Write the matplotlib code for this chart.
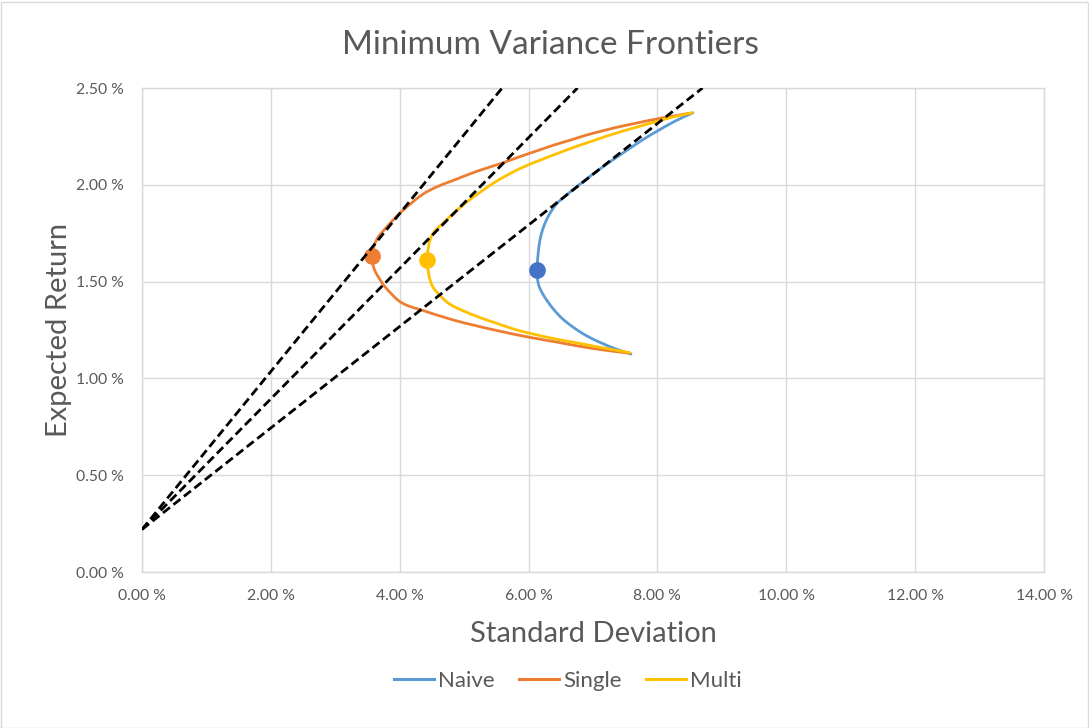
import matplotlib
matplotlib.use("Agg")
import matplotlib.pyplot as plt
from matplotlib.patches import Rectangle, PathPatch
from matplotlib.path import Path
from matplotlib.lines import Line2D
from matplotlib.ticker import FuncFormatter, MultipleLocator

# Frontier points: standard deviation (%) vs expected return (%)
naive_sd = [8.55, 8.28, 8.00, 7.75, 7.41, 7.15, 6.90, 6.74, 6.58, 6.43, 6.31, 6.23,
            6.18, 6.15, 6.13, 6.14, 6.17, 6.25, 6.38, 6.52, 6.69, 6.90, 7.15, 7.37, 7.59]
naive_ret = [2.372, 2.330, 2.278, 2.228, 2.152, 2.092, 2.030, 1.988, 1.945, 1.900,
             1.840, 1.780, 1.720, 1.650, 1.560, 1.510, 1.470, 1.420, 1.360, 1.310,
             1.265, 1.220, 1.180, 1.150, 1.126]

single_sd = [8.51, 8.24, 7.99, 7.72, 7.41, 7.20, 6.90, 6.69, 6.40, 6.17, 5.86, 5.58,
             5.20, 4.85, 4.58, 4.34, 4.03, 3.82, 3.69, 3.64, 3.60, 3.57, 3.59, 3.64,
             3.77, 3.97, 4.13, 4.34, 4.85, 5.47, 6.02, 6.40, 6.79, 7.18, 7.57]
single_ret = [2.370, 2.355, 2.340, 2.322, 2.300, 2.283, 2.257, 2.235, 2.206, 2.180,
              2.145, 2.111, 2.070, 2.025, 1.990, 1.947, 1.862, 1.790, 1.740, 1.715,
              1.680, 1.630, 1.580, 1.540, 1.474, 1.405, 1.375, 1.353, 1.300, 1.250,
              1.212, 1.190, 1.166, 1.146, 1.130]

multi_sd = [8.54, 8.24, 8.00, 7.72, 7.41, 7.20, 6.90, 6.69, 6.40, 6.17, 5.86, 5.52,
            5.25, 5.01, 4.80, 4.65, 4.53, 4.47, 4.44, 4.42, 4.44, 4.47, 4.54, 4.75,
            4.98, 5.24, 5.50, 5.75, 6.02, 6.40, 6.79, 7.18, 7.57]
multi_ret = [2.372, 2.350, 2.328, 2.302, 2.272, 2.250, 2.216, 2.192, 2.156, 2.126,
             2.083, 2.022, 1.962, 1.903, 1.842, 1.795, 1.755, 1.715, 1.665, 1.610,
             1.560, 1.510, 1.460, 1.390, 1.350, 1.315, 1.285, 1.257, 1.233, 1.205,
             1.181, 1.156, 1.133]

# Minimum-variance portfolios
mv_sd = [6.13, 3.57, 4.42]
mv_ret = [1.56, 1.63, 1.61]

# Capital allocation lines: risk-free intercept and std dev where each reaches 2.50 %
risk_free = 0.22
cal_top_ret = 2.50
cal_top_sd = [5.59, 6.76, 8.70]

series_names = ["Naive", "Single", "Multi"]
line_colors = ["#5B9BD5", "#ED7D31", "#FFC000"]
dot_colors = ["#4472C4", "#ED7D31", "#FFC000"]


def smoothed_path(xs, ys):
    """Cubic Bezier path through the points (Catmull-Rom style smoothing)."""
    pts = list(zip(xs, ys))
    verts = [pts[0]]
    codes = [Path.MOVETO]
    n = len(pts)
    for i in range(n - 1):
        p0 = pts[i - 1] if i > 0 else pts[i]
        p1 = pts[i]
        p2 = pts[i + 1]
        p3 = pts[i + 2] if i + 2 < n else pts[i + 1]
        c1 = (p1[0] + (p2[0] - p0[0]) / 6, p1[1] + (p2[1] - p0[1]) / 6)
        c2 = (p2[0] - (p3[0] - p1[0]) / 6, p2[1] - (p3[1] - p1[1]) / 6)
        verts += [c1, c2, p2]
        codes += [Path.CURVE4] * 3
    return Path(verts, codes)


W, H = 1089, 728
fig = plt.figure(figsize=(W / 100, H / 100), dpi=100)
fig.patch.set_facecolor("white")
ax = fig.add_axes([142 / W, 1 - 572 / H, (1044 - 142) / W, (572 - 88) / H])

text_color = "#595959"
grid_color = "#D9D9D9"
font = "Lato"

curves = [(naive_sd, naive_ret), (single_sd, single_ret), (multi_sd, multi_ret)]
for (sd, ret), c in zip(curves, line_colors):
    ax.add_patch(PathPatch(smoothed_path(sd, ret), fill=False, edgecolor=c, lw=2.0,
                           capstyle="round", joinstyle="round", zorder=3))

for x, y, c in zip(mv_sd, mv_ret, dot_colors):
    ax.plot([x], [y], "o", color=c, ms=11, mec=c, zorder=4)

for xe in cal_top_sd:
    ax.plot([0, xe], [risk_free, cal_top_ret], color="black", lw=2.0,
            ls=(0, (3.2, 1.6)), zorder=5)

ax.set_xlim(0, 14)
ax.set_ylim(0, 2.5)
ax.xaxis.set_major_locator(MultipleLocator(2))
ax.yaxis.set_major_locator(MultipleLocator(0.5))
fmt = FuncFormatter(lambda v, p: f"{v:.2f} %")
ax.xaxis.set_major_formatter(fmt)
ax.yaxis.set_major_formatter(fmt)
ax.grid(True, color=grid_color, lw=1.0, zorder=0)
ax.set_axisbelow(True)
for s in ax.spines.values():
    s.set_color(grid_color)
    s.set_linewidth(1.0)
ax.tick_params(axis="x", length=0, pad=12, labelcolor=text_color, labelsize=11.3)
ax.tick_params(axis="y", length=0, pad=13, labelcolor=text_color, labelsize=11.3)
for lab in ax.get_xticklabels() + ax.get_yticklabels():
    lab.set_fontfamily(font)

ax.set_xlabel("Standard Deviation", fontsize=21, color=text_color, family=font, labelpad=13)
ax.set_ylabel("Expected Return", fontsize=21, color=text_color, family=font, labelpad=3)

fig.text(550 / W, 1 - 45 / H, "Minimum Variance Frontiers", ha="center", va="center",
         fontsize=24, color=text_color, family=font)

handles = [Line2D([0], [0], color=c, lw=2.2) for c in line_colors]
leg = fig.legend(handles, series_names, loc="center", bbox_to_anchor=(568 / W, 1 - 681 / H),
                 ncol=3, frameon=False, handlelength=1.8, handletextpad=0.18,
                 columnspacing=1.1, prop={"family": font, "size": 16})
for t in leg.get_texts():
    t.set_color(text_color)

fig.patches.append(Rectangle((0.5 / W, 0.5 / H), 1 - 2 / W, 1 - 2 / H,
                             transform=fig.transFigure, fill=False,
                             edgecolor=grid_color, lw=1.0))

fig.savefig("out.png", dpi=100)
